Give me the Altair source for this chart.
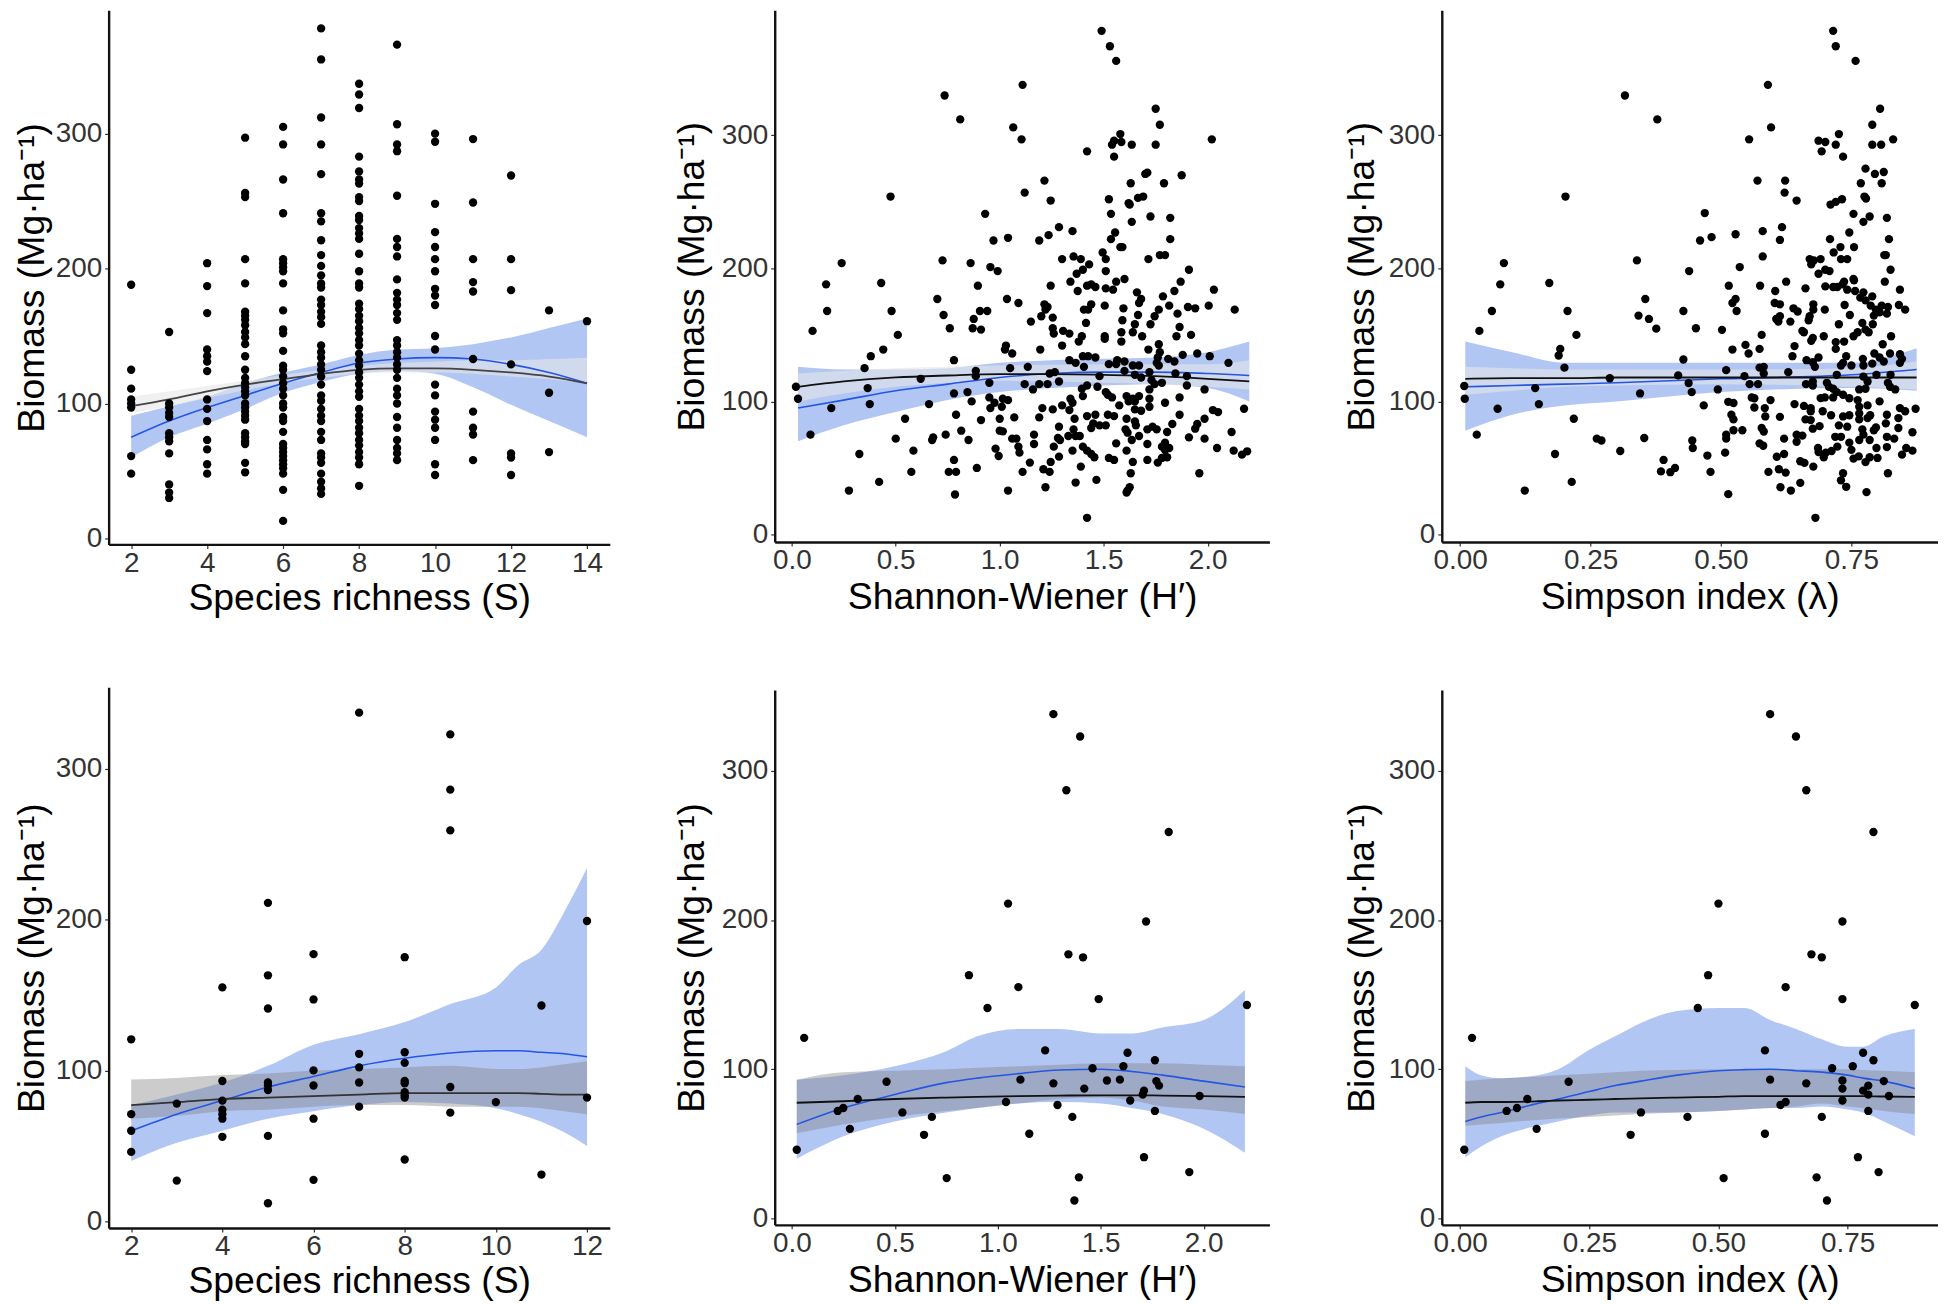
import altair as alt
import pandas as pd

# ---------- upper row: biomass by species richness ----------
TOP_RICHNESS = {
    2: [188, 125, 111, 103, 100, 97, 61, 48],
    3: [153, 100, 97, 93, 90, 78, 75, 72, 63, 40, 34, 30],
    4: [204, 187, 167, 140, 135, 131, 124, 103, 96, 87, 73, 66, 55, 48],
    5: [297, 256, 253, 207, 189, 168, 165, 162, 158, 153, 149, 144, 135, 125, 119, 115, 112, 109, 106, 100, 97, 94, 91, 88, 78, 75, 72, 70, 56, 49],
    6: [305, 292, 266, 241, 207, 204, 201, 198, 189, 169, 155, 152, 139, 128, 125, 120, 115, 111, 106, 100, 97, 90, 87, 79, 70, 67, 64, 61, 58, 55, 52, 48, 36, 13],
    7: [378, 355, 312, 292, 270, 241, 235, 221, 210, 202, 195, 189, 186, 177, 173, 168, 164, 159, 143, 138, 134, 129, 125, 120, 114, 106, 102, 96, 91, 87, 79, 73, 63, 60, 56, 48, 42, 37, 33],
    8: [337, 329, 319, 283, 272, 266, 263, 253, 250, 239, 236, 230, 226, 222, 211, 198, 189, 186, 174, 170, 165, 161, 156, 152, 147, 143, 137, 132, 128, 123, 119, 114, 109, 105, 96, 91, 87, 82, 78, 73, 69, 64, 60, 55, 39],
    9: [366, 307, 292, 287, 254, 222, 216, 209, 192, 182, 177, 173, 167, 162, 147, 143, 138, 134, 129, 125, 119, 111, 106, 100, 90, 82, 73, 67, 63, 58],
    10: [300, 294, 248, 227, 216, 207, 198, 185, 180, 173, 150, 140, 114, 106, 94, 88, 82, 73, 55, 47],
    11: [296, 249, 207, 190, 183, 133, 94, 82, 77, 58],
    12: [269, 207, 184, 129, 63, 60, 47],
    13: [169, 108, 64],
    14: [161],
}
T1_X = [2, 3, 4, 5, 6, 7, 8, 9, 10, 11, 12, 13, 14]
T1_BLUE = [75, 87, 97, 106, 115, 123, 130, 133, 134, 133, 129, 123, 115]
T1_BLUE_HI = [91, 98, 105, 115, 123, 129, 136, 140, 141, 144, 149, 156, 163]
T1_BLUE_LO = [60, 75, 85, 96, 108, 116, 122, 124, 122, 112, 99, 87, 75]
T1_GRAY = [98, 103, 109, 114, 118, 122, 125, 126, 126, 125, 123, 120, 115]
T1_GRAY_HI = [105, 109, 113, 117, 121, 125, 128, 130, 131, 132, 132, 133, 134]
T1_GRAY_LO = [93, 98, 104, 110, 115, 119, 122, 123, 123, 122, 120, 118, 115]

# ---------- upper row: Shannon-Wiener ----------
TOP_SHANNON = [
    (1.49, 378.6), (1.53, 367), (1.56, 356), (1.11, 338), (.735, 330), (1.75, 320), (.81, 312), (1.77, 308), (1.065, 306), (1.58, 301),
    (1.105, 297), (2.02, 297), (1.55, 296), (1.54, 293), (1.585, 295), (1.635, 293), (1.75, 293), (1.42, 288), (1.55, 284), (1.875, 270),
    (1.71, 272), (1.70, 271), (1.215, 266), (1.63, 264), (1.79, 264), (1.12, 257), (.475, 254), (1.69, 254), (1.665, 253), (1.525, 252),
    (1.245, 251), (1.62, 249), (1.625, 248), (.93, 241), (1.535, 241), (1.725, 239), (1.82, 238), (1.635, 235), (1.285, 231), (1.35, 228),
    (1.555, 227), (1.235, 225), (1.04, 223), (1.535, 222), (1.19, 221), (.97, 221), (1.82, 222), (1.58, 216), (1.59, 216), (1.495, 212),
    (1.355, 209), (1.77, 210), (1.795, 210), (1.39, 207), (1.30, 207), (1.51, 207), (1.715, 207), (.725, 206), (.24, 204), (.86, 204),
    (1.43, 203), (.955, 201), (1.40, 199), (.99, 198), (1.91, 199), (1.51, 198), (1.37, 196), (1.60, 192), (1.56, 190), (1.87, 190),
    (1.34, 190), (.43, 189), (.165, 188), (.895, 187), (1.245, 187), (1.42, 187), (1.44, 188), (1.46, 186), (1.375, 183), (1.51, 185),
    (1.545, 184), (1.84, 183), (2.03, 184), (1.66, 182), (1.785, 179), (.70, 177), (1.035, 177), (1.68, 177), (1.09, 174), (1.67, 174),
    (1.505, 172), (1.815, 172), (1.215, 173), (1.23, 171), (1.905, 171), (1.94, 170), (2.005, 172), (1.595, 170), (1.405, 169), (1.44, 173),
    (1.425, 169), (1.765, 169), (2.13, 169), (.48, 168), (.17, 168), (.905, 168), (.94, 168), (1.22, 169), (.73, 165), (1.2, 164),
    (1.855, 166), (1.745, 164), (1.665, 165), (1.59, 161), (.875, 162), (1.255, 163), (1.15, 160), (1.415, 159), (1.725, 158), (1.65, 158),
    (.76, 155), (1.255, 155), (.87, 155), (1.865, 156), (.10, 153), (.91, 154), (1.305, 153), (1.335, 151), (1.26, 151), (1.585, 152),
    (1.64, 152), (.51, 150), (1.92, 150), (1.505, 149), (1.395, 149), (1.685, 149), (1.85, 149), (1.505, 147), (1.585, 145), (1.38, 145),
    (1.765, 143), (1.03, 142), (1.30, 142), (.44, 139), (1.195, 139), (1.025, 139), (1.715, 139), (1.06, 136), (1.88, 135), (1.77, 137),
    (.38, 134), (1.95, 136), (1.40, 134), (1.425, 134), (1.46, 133), (2.01, 134), (1.335, 131), (.78, 131), (1.565, 131), (1.60, 130),
    (1.525, 128), (1.76, 133), (1.365, 129), (1.81, 132), (1.84, 130), (1.755, 129), (2.10, 129), (1.56, 128), (1.64, 127), (1.67, 127),
    (.35, 125), (1.05, 125), (1.135, 126), (1.765, 127), (1.405, 126), (.885, 123), (1.60, 123), (1.265, 122), (1.24, 121), (1.72, 122),
    (1.845, 121), (1.48, 119), (.885, 119), (.62, 117), (1.90, 119), (1.68, 118), (1.65, 120), (1.285, 115), (1.73, 116), (.95, 114),
    (1.12, 113), (1.19, 113), (1.23, 113), (1.78, 114), (1.745, 113), (1.90, 112), (.02, 111), (1.42, 112), (1.47, 111), (1.16, 109),
    (1.395, 109.5), (.365, 110), (1.72, 109), (1.985, 109), (.845, 107), (.78, 106), (1.51, 107), (1.52, 105), (1.61, 104), (1.40, 104),
    (1.865, 103), (1.67, 104), (1.34, 102), (.03, 102), (.95, 103), (1.015, 102), (1.04, 101), (1.64, 102), (1.54, 103), (1.65, 100),
    (1.62, 100), (1.72, 102), (.865, 100), (.975, 99), (1.35, 99), (.66, 98), (.375, 98), (1.795, 99), (1.575, 97), (1.30, 97),
    (.955, 95), (1.01, 96), (1.205, 95), (1.255, 94), (.19, 95), (1.335, 93.5), (1.72, 96), (1.65, 94), (1.68, 93), (2.025, 93.5),
    (2.05, 92), (2.175, 94.5), (.79, 90), (1.52, 90), (1.55, 89), (1.42, 89), (1.07, 88), (1.46, 90), (1.865, 90), (1.19, 88),
    (1.36, 87), (.545, 87), (1.00, 87), (.91, 86), (1.61, 87), (1.65, 85), (1.985, 87), (1.83, 83), (1.95, 83), (1.51, 82),
    (1.45, 83.5), (1.48, 82), (1.285, 81), (1.44, 80), (1.735, 81), (1.655, 82), (1.94, 79.5), (.815, 78), (1.00, 78), (1.355, 79),
    (1.605, 79), (1.71, 79), (1.755, 79), (1.805, 77), (2.115, 77), (1.015, 77.5), (1.615, 76.5), (1.165, 75), (.09, 75), (.74, 75),
    (1.33, 74), (1.365, 74), (1.385, 74), (1.67, 74), (1.91, 73), (1.28, 72.5), (.50, 72), (.68, 73), (.675, 71), (1.06, 72),
    (1.08, 72), (1.985, 72), (1.635, 71), (.85, 71), (1.29, 71), (1.56, 68.5), (1.165, 68), (1.71, 68), (1.795, 69), (1.26, 66),
    (1.09, 66), (1.40, 66), (1.78, 66), (2.045, 65), (1.815, 65), (.98, 64.5), (1.795, 63.5), (.585, 63), (1.35, 63), (1.095, 61.5),
    (1.61, 63), (1.42, 63), (2.125, 63), (2.19, 62.5), (2.165, 60), (.325, 60.5), (.995, 59), (1.44, 60.5), (1.805, 58), (1.78, 57.5),
    (1.285, 58.5), (1.455, 58), (1.525, 57.5), (1.55, 56), (1.71, 56), (.78, 56), (1.76, 54), (1.245, 54.5), (1.145, 54), (1.64, 54.5),
    (1.39, 51), (.89, 50), (1.21, 49), (.575, 47), (.755, 47), (.79, 47), (1.11, 47), (1.24, 47), (1.63, 46), (1.96, 46),
    (1.465, 41), (.42, 39.5), (1.365, 39), (1.22, 35.5), (1.625, 35.5), (.275, 33), (1.04, 33), (1.615, 33), (1.61, 31.5), (.785, 30),
    (1.42, 12.5),
]
T2_X = [.03, .25, .5, .75, 1, 1.25, 1.5, 1.75, 2, 2.2]
T2_BLUE = [95, 101, 108, 113, 118, 121, 122, 122, 121, 119.5]
T2_BLUE_HI = [126, 124, 124, 125, 129, 131, 132, 133, 137, 145]
T2_BLUE_LO = [70, 82, 92, 101, 107, 110, 112, 113, 110, 100]
T2_GRAY = [111, 115, 118, 119.5, 120.5, 120.5, 120, 119, 117, 115]
T2_GRAY_HI = [121, 123, 125, 126, 127, 127.5, 128, 128, 128, 131]
T2_GRAY_LO = [100, 106, 111, 114, 115.5, 115, 114, 113, 111, 109]

# ---------- upper row: Simpson ----------
TOP_SIMPSON = [
    (.715, 378.6), (.72, 367), (.758, 356), (.59, 338), (.316, 330), (.805, 320), (.378, 312), (.79, 308), (.596, 306), (.726, 301),
    (.554, 297), (.83, 297), (.687, 296), (.70, 295), (.72, 293), (.79, 293), (.807, 293), (.693, 288), (.734, 284), (.777, 275),
    (.812, 272.5), (.795, 271), (.57, 266), (.623, 266), (.768, 264), (.808, 264), (.622, 257), (.202, 254), (.775, 254), (.778, 252.5),
    (.732, 252), (.645, 251), (.72, 250), (.71, 248), (.469, 241.6), (.754, 241), (.785, 239), (.818, 238), (.773, 235), (.617, 231),
    (.58, 228), (.746, 227), (.528, 225.7), (.482, 223.5), (.709, 222), (.46, 221), (.613, 221.4), (.822, 222), (.755, 216), (.729, 216),
    (.716, 212), (.58, 209), (.813, 210), (.816, 210), (.73, 207), (.742, 207), (.691, 207), (.67, 207), (.678, 206), (.339, 206),
    (.084, 204), (.673, 203), (.536, 201), (.70, 199), (.439, 198), (.825, 199), (.708, 198), (.687, 196), (.754, 192), (.625, 190),
    (.814, 190), (.755, 191), (.736, 190), (.171, 189), (.077, 188), (.515, 187), (.575, 187), (.70, 186.5), (.715, 186), (.723, 186),
    (.733, 188), (.662, 185), (.742, 184), (.604, 183), (.843, 184), (.757, 183), (.773, 182), (.79, 179), (.355, 177), (.528, 177),
    (.767, 178), (.777, 176), (.522, 174), (.603, 174), (.613, 173), (.737, 172.5), (.808, 172), (.82, 171), (.841, 172.5), (.853, 169),
    (.677, 173), (.699, 169), (.639, 170), (.677, 169), (.647, 167.6), (.787, 172), (.797, 169), (.428, 168), (.061, 168), (.206, 168),
    (.53, 168), (.804, 167), (.818, 166), (.747, 165), (.342, 164.5), (.606, 162), (.67, 164), (.793, 164.5), (.613, 164), (.362, 162),
    (.668, 161), (.61, 160), (.633, 160), (.726, 158), (.771, 159), (.791, 158), (.777, 154), (.452, 155), (.376, 154.7), (.502, 153.8),
    (.037, 153), (.656, 153), (.783, 152), (.762, 152), (.659, 152), (.223, 150), (.578, 150), (.697, 149), (.754, 149), (.826, 149),
    (.676, 147.7), (.673, 145.6), (.72, 144.6), (.736, 145), (.547, 142.5), (.641, 141.6), (.81, 143), (.72, 139.5), (.574, 139.5), (.192, 139.5),
    (.522, 139), (.189, 134.5), (.553, 136), (.637, 134), (.687, 133), (.74, 134), (.794, 136), (.824, 136), (.843, 135.5), (.428, 131.5),
    (.664, 131), (.772, 132), (.676, 129.5), (.804, 133), (.847, 132), (.734, 129), (.843, 129), (.68, 126), (.773, 127), (.75, 127),
    (.73, 127), (.79, 128.4), (.812, 130), (.20, 125.4), (.574, 125.4), (.582, 126), (.51, 123.5), (.629, 122), (.582, 121), (.722, 120),
    (.798, 120), (.825, 120), (.545, 119), (.418, 119.6), (.287, 117.4), (.773, 118.7), (.703, 114), (.676, 115), (.438, 113.8), (.555, 113),
    (.571, 113), (.663, 113), (.676, 112), (.82, 114), (.781, 115), (.707, 111), (.008, 111.6), (.144, 110), (.494, 109), (.824, 111),
    (.834, 109), (.715, 109.5), (.444, 107), (.765, 109), (.777, 109.5), (.345, 106), (.559, 103), (.564, 102.4), (.722, 107), (.734, 105),
    (.699, 103), (.691, 102.5), (.715, 103), (.746, 102.4), (.762, 101), (.595, 101), (.804, 100), (.009, 102), (.514, 99.7), (.524, 98.8),
    (.151, 98), (.467, 97), (.641, 98), (.659, 96.6), (.672, 95), (.765, 96), (.781, 97), (.564, 95.4), (.584, 95), (.072, 94.5),
    (.843, 95), (.853, 92.6), (.873, 94.5), (.672, 92.6), (.765, 91), (.695, 92.6), (.52, 90), (.786, 89.6), (.818, 90), (.711, 89.6),
    (.734, 88.7), (.746, 89.6), (.585, 88.7), (.613, 88.4), (.524, 86.5), (.662, 86.5), (.672, 86), (.781, 87.5), (.218, 87), (.765, 86.5),
    (.84, 87.5), (.726, 82), (.742, 81), (.816, 83.5), (.689, 81.4), (.676, 79.5), (.578, 80), (.797, 80.4), (.771, 79), (.84, 80),
    (.793, 78.3), (.582, 77.4), (.524, 78.3), (.541, 78.3), (.867, 76.8), (.773, 75), (.51, 75), (.032, 75), (.645, 75), (.656, 74.3),
    (.51, 72), (.621, 72), (.719, 73.4), (.73, 73.4), (.818, 73.4), (.832, 72), (.262, 72), (.271, 70.6), (.353, 72.5), (.445, 70.6),
    (.645, 69.7), (.574, 68.5), (.581, 66.7), (.746, 69), (.765, 71), (.785, 71), (.723, 66), (.75, 63.6), (.818, 65.7), (.798, 65),
    (.446, 65), (.686, 65), (.855, 65), (.867, 63), (.847, 60), (.307, 62.7), (.508, 61.5), (.621, 60.5), (.687, 62), (.701, 61.5),
    (.712, 62.7), (.182, 60.5), (.474, 59.3), (.607, 58.4), (.697, 58), (.785, 58), (.80, 57.5), (.754, 57), (.764, 58.7), (.39, 56),
    (.777, 54.4), (.652, 55), (.66, 53.8), (.677, 51), (.412, 50), (.611, 49), (.385, 47.4), (.403, 46.8), (.591, 47), (.624, 46.5),
    (.48, 47), (.82, 46), (.734, 46), (.73, 40.7), (.214, 39.5), (.652, 38.8), (.74, 35.8), (.614, 35.5), (.634, 33), (.124, 33),
    (.779, 31.8), (.514, 30.3), (.681, 12.5),
]
T3_X = [.01, .1, .2, .3, .5, .75, .875]
T3_BLUE = [111, 112, 113, 114, 117, 120, 124]
T3_BLUE_HI = [145, 137, 129, 129, 129, 129, 140]
T3_BLUE_LO = [78, 90, 97, 100, 107, 110, 108]
T3_GRAY = [117, 117.5, 117.5, 118, 118, 118, 118]
T3_GRAY_HI = [126, 125, 124, 124, 124, 125, 130]
T3_GRAY_LO = [105, 108, 111, 112, 113, 111, 109]

# ---------- lower row ----------
LOW_RICHNESS = {
    2: [120.6, 71, 60, 46],
    3: [78, 27],
    4: [155, 93, 80, 74, 71, 68, 56],
    5: [211, 163, 141, 92, 90, 87, 56.6, 12],
    6: [177, 147, 100, 90, 68, 27.5],
    7: [337, 111, 102, 92, 76],
    8: [175, 112, 105, 93, 91.5, 85.6, 83.5, 82, 41],
    9: [322.6, 286, 259, 89, 72],
    10: [79],
    11: [143, 31],
    12: [199, 82],
}
B1_X = [2, 3, 4, 5, 6, 7, 8, 9, 10, 10.5, 11, 11.5, 12]
B1_BLUE = [60, 71, 80, 89, 96, 103, 108, 111.5, 113, 113, 112, 111, 109]
B1_BLUE_HI = [77, 84, 92, 103, 117, 124, 132, 144, 155, 170, 180, 205, 234]
B1_BLUE_LO = [40, 52, 60, 68, 73, 77, 79, 78, 75, 71, 66, 59, 50]
B1_GRAY = [77, 79, 81, 82, 83, 84, 85, 85, 85, 85, 84.5, 84, 84]
B1_GRAY_HI = [94, 95, 97, 98, 100, 101, 102, 103, 101, 101, 102, 104, 106]
B1_GRAY_LO = [68, 70, 73, 74, 76, 77, 77, 76, 76, 76, 75, 73, 71]

LOW_SHANNON = [
    (1.27, 338), (1.40, 323), (1.333, 287), (1.83, 259), (1.05, 211), (1.72, 199), (1.343, 177), (1.414, 175), (.86, 163), (1.10, 155),
    (1.49, 147), (.95, 141), (2.21, 143), (.06, 121), (1.23, 112.6), (1.63, 111), (1.763, 106), (1.61, 102), (1.46, 100.6), (1.11, 93),
    (1.53, 92.4), (1.593, 93), (.46, 91.6), (1.27, 90.5), (1.77, 92), (1.783, 89), (1.42, 87), (1.71, 85.6), (1.704, 83), (1.98, 82),
    (.32, 80), (1.04, 78), (1.643, 79), (1.29, 76), (.25, 74), (.223, 72), (.537, 71), (1.763, 72), (.68, 68), (1.362, 68),
    (.282, 60), (.642, 56), (1.153, 56.7), (.024, 46), (1.71, 41), (.752, 27), (1.394, 27.5), (1.93, 31), (1.372, 12),
]
B2_X = [.024, .25, .5, .75, .9, 1.1, 1.3, 1.5, 1.65, 1.8, 2, 2.2]
B2_BLUE = [63, 74, 83, 91, 94, 97, 99.5, 100, 98.5, 96, 92, 88]
B2_BLUE_HI = [93, 96, 102, 112, 122, 127, 127, 124, 124, 128, 133, 153]
B2_BLUE_LO = [40, 55, 65, 71, 74, 77, 78, 77, 74, 70, 60, 44]
B2_GRAY = [77.5, 78.5, 80, 81, 81.5, 82, 82.3, 82.5, 82.5, 82.3, 82, 81.5]
B2_GRAY_HI = [93, 98, 99, 100, 101, 102, 103, 104, 104, 104, 103, 102]
B2_GRAY_LO = [57, 63, 68, 72, 74, 77, 80, 81, 79, 75, 73, 70]

LOW_SIMPSON = [
    (.60, 338), (.65, 323), (.67, 287), (.80, 259), (.50, 211), (.74, 199), (.68, 177), (.70, 175), (.48, 163), (.63, 155),
    (.74, 147), (.46, 141), (.88, 143), (.023, 121), (.59, 112.6), (.78, 111), (.80, 106), (.76, 102), (.72, 100.6), (.60, 93),
    (.74, 92.4), (.21, 91.6), (.67, 90.5), (.82, 92), (.79, 89), (.74, 87), (.78, 85.6), (.79, 83), (.83, 82), (.13, 80),
    (.63, 78), (.74, 79), (.62, 76), (.11, 74), (.09, 72), (.35, 71), (.79, 72), (.44, 68), (.70, 68), (.148, 60),
    (.33, 56), (.59, 56.7), (.008, 46), (.77, 41), (.51, 27), (.69, 27.5), (.81, 31), (.71, 12),
]
B3_X = [.01, .04, .08, .15, .19, .25, .3, .35, .42, .5, .55, .6, .65, .7, .75, .78, .82, .88]
B3_BLUE = [65, 68, 71, 77, 80, 85, 89, 92, 96, 99, 99.7, 100, 99, 98, 96, 94, 92, 87]
B3_BLUE_HI = [102, 96, 94, 96, 100, 113, 122, 131, 139, 141, 141, 133, 127, 120, 115, 115, 122, 127]
B3_BLUE_LO = [41, 48, 55, 62, 65, 69, 71, 71, 71, 72, 73, 74, 74, 75, 73, 71, 65, 55]
B3_GRAY = [77.5, 78, 78, 78.5, 79, 79.5, 80, 80.5, 81, 81.5, 82, 82, 82, 82, 82, 82, 81.7, 81.5]
B3_GRAY_HI = [92, 93, 94, 95, 96, 97, 98, 99, 99.5, 100, 100, 100, 100, 100, 100, 99.5, 99, 98]
B3_GRAY_LO = [62, 63, 64, 66, 67, 68, 69, 70, 71, 72, 73, 74, 75, 77, 75, 74, 72, 70]

Y_TICKS = [0, 100, 200, 300]
S_TICKS_TOP = [2, 4, 6, 8, 10, 12, 14]
S_TICKS_LOW = [2, 4, 6, 8, 10, 12]
H_TICKS = [0.0, 0.5, 1.0, 1.5, 2.0]
L_TICKS = [0.0, 0.25, 0.5, 0.75]

Y_TITLE = "Biomass (Mg·ha⁻¹)"
X_S = "Species richness (S)"
X_H = "Shannon-Wiener (H′)"
X_L = "Simpson index (λ)"

FONT = "Liberation Sans"
BLUE = "#2a62e0"
GRAY_DARK = "#808080"
GRAY_LIGHT = "#e6e6e6"


def flat(groups):
    return [(k, v) for k, vals in groups.items() for v in vals]


def panel(points, xs, blue, blue_hi, blue_lo, gray, gray_hi, gray_lo,
          xdom, xrange_px, xticks, xfmt, xtitle,
          ydom, yrange_px, height, width,
          gray_color, gray_alpha, ytitle_pad, xtitle_pad, x_offset=0, gray_line="#111111"):
    pts = pd.DataFrame(points, columns=["x", "y"])
    fit = pd.DataFrame({"x": xs, "b": blue, "bh": blue_hi, "bl": blue_lo,
                        "g": gray, "gh": gray_hi, "gl": gray_lo})
    xs_ = alt.Scale(domain=xdom, range=xrange_px, nice=False, zero=False)
    ys_ = alt.Scale(domain=ydom, range=yrange_px, nice=False, zero=False)
    xax = alt.Axis(values=xticks, format=xfmt, title=xtitle, grid=False, offset=x_offset,
                   titlePadding=xtitle_pad, labelPadding=1)
    yax = alt.Axis(values=Y_TICKS, format="d", title=Y_TITLE, grid=False,
                   titlePadding=ytitle_pad, labelPadding=3)
    X = alt.X("x:Q", scale=xs_, axis=xax)
    Y = alt.Y("y:Q", scale=ys_, axis=yax)
    band_b = alt.Chart(fit).mark_area(color=BLUE, opacity=0.36, interpolate="monotone").encode(
        x=X, y=alt.Y("bl:Q", scale=ys_, axis=yax), y2="bh:Q")
    band_g = alt.Chart(fit).mark_area(color=gray_color, opacity=gray_alpha, interpolate="monotone").encode(
        x=X, y=alt.Y("gl:Q", scale=ys_, axis=yax), y2="gh:Q")
    line_b = alt.Chart(fit).mark_line(color="#2456e6", strokeWidth=1.6, interpolate="monotone").encode(
        x=X, y=alt.Y("b:Q", scale=ys_, axis=yax))
    line_g = alt.Chart(fit).mark_line(color=gray_line, strokeWidth=1.8, interpolate="monotone").encode(
        x=X, y=alt.Y("g:Q", scale=ys_, axis=yax))
    dots = alt.Chart(pts).mark_circle(color="black", opacity=1, size=70).encode(x=X, y=Y)
    return alt.layer(band_b, band_g, line_b, line_g, dots).properties(width=width, height=height)


# column widths; the middle column's axis is drawn shorter than its cell
W1, W2, W3 = 503, 504, 497.5
R1, R2 = 533.6, 539.5

p1 = panel(flat(TOP_RICHNESS), T1_X, T1_BLUE, T1_BLUE_HI, T1_BLUE_LO, T1_GRAY, T1_GRAY_HI, T1_GRAY_LO,
           [1.407, 14.6], [0, 503], S_TICKS_TOP, "d", X_S,
           [-4.43, 391.4], [536, 0], R1, W1, GRAY_LIGHT, 0.6, 3.5, 2, x_offset=2.4, gray_line="#444444")
p2 = panel(TOP_SHANNON, T2_X, T2_BLUE, T2_BLUE_HI, T2_BLUE_LO, T2_GRAY, T2_GRAY_HI, T2_GRAY_LO,
           [-0.082, 2.297], [0, 496.5], H_TICKS, ".1f", X_H,
           [-5.69, 394], [533.6, 0], R1, W2, GRAY_LIGHT, 0.6, 10, 4)
p3 = panel(TOP_SIMPSON, T3_X, T3_BLUE, T3_BLUE_HI, T3_BLUE_LO, T3_GRAY, T3_GRAY_HI, T3_GRAY_LO,
           [-0.035, 0.915], [0, 497.5], L_TICKS, ".2f", X_L,
           [-5.69, 394], [533.6, 0], R1, W3, GRAY_LIGHT, 0.6, 7, 4)
p4 = panel(flat(LOW_RICHNESS), B1_X, B1_BLUE, B1_BLUE_HI, B1_BLUE_LO, B1_GRAY, B1_GRAY_HI, B1_GRAY_LO,
           [1.505, 12.5], [0, 503], S_TICKS_LOW, "d", X_S,
           [-4.42, 353.8], [542.7, 0], R2, W1, GRAY_DARK, 0.4, 3.5, 2, x_offset=3.2, gray_line="#333333")
p5 = panel(LOW_SHANNON, B2_X, B2_BLUE, B2_BLUE_HI, B2_BLUE_LO, B2_GRAY, B2_GRAY_HI, B2_GRAY_LO,
           [-0.083, 2.319], [0, 496.5], H_TICKS, ".1f", X_H,
           [-4.34, 354.2], [539.5, 2.7], R2, W2, GRAY_DARK, 0.4, 10, 4)
p6 = panel(LOW_SIMPSON, B3_X, B3_BLUE, B3_BLUE_HI, B3_BLUE_LO, B3_GRAY, B3_GRAY_HI, B3_GRAY_LO,
           [-0.0355, 0.924], [0, 497.5], L_TICKS, ".2f", X_L,
           [-4.34, 354.2], [539.5, 2.7], R2, W3, GRAY_DARK, 0.4, 7, 4)

chart = (
    alt.concat(p1, p2, p3, p4, p5, p6, columns=3, bounds="flush",
               spacing=alt.RowColnumber(row=145.4, column=165.5))
    .properties(padding={"left": 5, "top": 0, "right": 0, "bottom": 0}, background="white")
    .configure_view(stroke=None)
    .configure_axis(
        labelFont=FONT, titleFont=FONT, labelFontSize=28, titleFontSize=37.5,
        labelColor="#333333", titleColor="#000000", titleFontWeight="normal",
        domainColor="#111111", domainWidth=2.4, tickColor="#333333", tickWidth=1.2, tickSize=4,
        labelFlush=False, labelOverlap=False,
    )
)
chart.save("out.html", embed_options={"renderer": "svg", "actions": False})
